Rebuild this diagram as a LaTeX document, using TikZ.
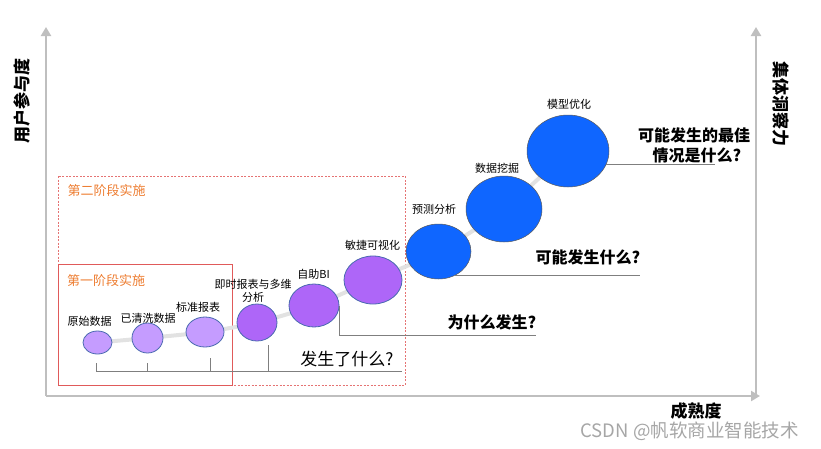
\documentclass[tikz,border=0pt]{standalone}
\usepackage{fontspec}
\setmainfont{Noto Sans CJK SC}
\usepackage{xcolor}
\usetikzlibrary{shapes.geometric, arrows.meta, positioning, calc}

\definecolor{axisgray}{HTML}{BFBFBF}
\definecolor{bracketgray}{HTML}{7F7F7F}
\definecolor{trackgray}{HTML}{E2E2E2}
\definecolor{stagered}{HTML}{E05A5A}
\definecolor{stageorange}{HTML}{ED7D31}
\definecolor{lightpurple}{HTML}{C59CFF}
\definecolor{midpurple}{HTML}{AE66F8}
\definecolor{deepblue}{HTML}{0F66FF}
\definecolor{edgeblue}{HTML}{4A6AB0}

\begin{document}
\begin{tikzpicture}[
x=1pt, y=-1pt,
axisline/.style={
draw=axisgray,
line width=2.6pt,
-{Triangle[length=9pt, width=10pt]}
},
axistitle/.style={
font=\fontsize{17}{20}\selectfont\bfseries,
inner sep=0pt
},
stagebox/.style={
draw=stagered,
line width=0.8pt
},
stagetitle/.style={
font=\fontsize{13}{15}\selectfont,
text=stageorange,
inner sep=0pt
},
earlystep/.style={
ellipse,
draw=edgeblue,
line width=0.8pt,
fill=lightpurple,
inner sep=0pt
},
midstep/.style={
ellipse,
draw=edgeblue,
line width=0.8pt,
fill=midpurple,
inner sep=0pt
},
highstep/.style={
ellipse,
draw=gray!70!black,
line width=0.5pt,
fill=deepblue,
inner sep=0pt
},
steplabel/.style={
font=\fontsize{11}{13}\selectfont,
align=center,
inner sep=0pt
},
question/.style={
font=\fontsize{16}{20}\selectfont\bfseries,
align=center,
inner sep=0pt
},
bracket/.style={
draw=bracketgray,
line width=0.9pt
},
track/.style={
draw=trackgray,
line width=4pt
}
]
\useasboundingbox (0,0) rectangle (821,448);

% Axes
\coordinate (origin) at (46,396);
\coordinate (ytop) at (46,27);
\coordinate (xend) at (760,396);
\coordinate (rbase) at (756,397);
\coordinate (rtop) at (756,27);
\draw[axisline] (origin) -- (ytop);
\draw[axisline] (origin) -- (xend);
\draw[axisline] (rbase) -- (rtop);

\node[axistitle, rotate=90] (engage) at (22,101) {用户参与度};
\node[axistitle, rotate=-90] (insight) at (781,104) {集体洞察力};
\node[axistitle] (maturity) at (696,411.5) {成熟度};

% Stage frames
\draw[stagebox, dashed, dash pattern=on 2pt off 1.5pt, draw=stagered!85] (58,176) rectangle (405,385);
\draw[stagebox] (58,264) rectangle (232,385);
\node[stagetitle] (stagetwo) at (106.5,190.5) {第二阶段实施};
\node[stagetitle] (stageone) at (106,281) {第一阶段实施};

% Path of the steps
\coordinate (c1) at (97.5,342.5);
\coordinate (c2) at (147.5,338);
\coordinate (c3) at (205,332);
\coordinate (c4) at (257,322.5);
\coordinate (c5) at (314,305.5);
\coordinate (c6) at (373,280);
\coordinate (c7) at (438.5,251.5);
\coordinate (c8) at (504,209);
\coordinate (c9) at (568,151);
\draw[track] plot[smooth, tension=0.5] coordinates {(c1) (c2) (c3) (c4) (c5) (c6) (c7) (c8) (c9)};

\node[earlystep, minimum width=29pt, minimum height=23pt] (yuanshi) at (c1) {};
\node[earlystep, minimum width=31pt, minimum height=30pt] (qingxi) at (c2) {};
\node[earlystep, minimum width=38pt, minimum height=30pt] (biaozhun) at (c3) {};
\node[midstep, minimum width=40pt, minimum height=37pt] (jishi) at (c4) {};
\node[midstep, minimum width=50pt, minimum height=43pt] (zizhu) at (c5) {};
\node[midstep, minimum width=58pt, minimum height=48pt] (minjie) at (c6) {};
\node[highstep, minimum width=65pt, minimum height=55pt] (yuce) at (c7) {};
\node[highstep, minimum width=76pt, minimum height=66pt] (wajue) at (c8) {};
\node[highstep, minimum width=82pt, minimum height=72pt] (moxing) at (c9) {};

\node[steplabel] (yuanshilabel) at (89.5,321) {原始数据};
\node[steplabel] (qingxilabel) at (148,318) {已清洗数据};
\node[steplabel] (biaozhunlabel) at (198,307) {标准报表};
\node[steplabel] (jishilabel) at (253,290.5) {即时报表与多维\\分析};
\node[steplabel] (zizhulabel) at (313.5,274) {自助BI};
\node[steplabel] (minjielabel) at (372.5,245) {敏捷可视化};
\node[steplabel] (yucelabel) at (434,209) {预测分析};
\node[steplabel] (wajuelabel) at (497,168) {数据挖掘};
\node[steplabel] (moxinglabel) at (569,104) {模型优化};

% Questions
\node[font=\fontsize{17}{20}\selectfont, inner sep=0pt] (what) at (347,359) {发生了什么?};
\node[question] (why) at (492,322) {为什么发生?};
\node[question] (may) at (588,257) {可能发生什么?};
\node[question] (best) at (694,145) {可能发生的最佳\\\hspace*{6pt}情况是什么?};

\coordinate (bstart) at (96,371);
\coordinate (bend) at (402,371);
\draw[bracket] (bstart) -- (bend);
\foreach \i/\x/\top in {1/96/363, 2/147/363, 3/210/358, 4/268/345} {
\coordinate (tick\i) at (\x,\top);
\draw[bracket] (tick\i) -- (tick\i |- bstart);
}

\coordinate (whyturn) at (340,335);
\draw[bracket] (zizhu.east) -- (zizhu.east |- whyturn) -- (why.east |- whyturn);
\draw[bracket] (yuce.-57) -- (yuce.-57 -| may.east);
\coordinate (bestend) at (715,163);
\draw[bracket] (moxing.-20) -- (moxing.-20 -| bestend);

\node[font=\fontsize{18.5}{19}\selectfont, text=gray!70, inner sep=0pt] (mark) at (689.5,431) {CSDN @帆软商业智能技术};

\end{tikzpicture}
\end{document}
